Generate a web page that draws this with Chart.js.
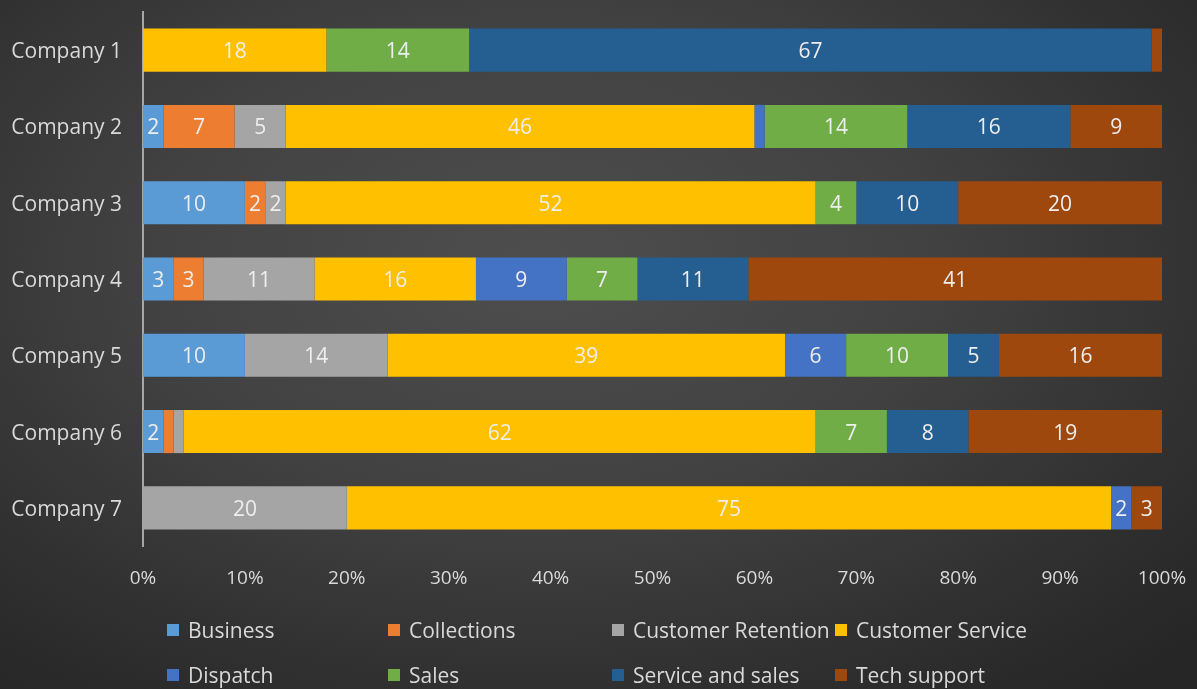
<!DOCTYPE html>
<html>
<head>
<meta charset="utf-8">
<script src="https://cdn.jsdelivr.net/npm/chart.js@4.4.1/dist/chart.umd.min.js"></script>
<style>
  html, body { margin:0; padding:0; width:1197px; height:689px; overflow:hidden; }
  body {
    background: radial-gradient(ellipse 75% 80% at 45% 38%, #4e4e4e 0%, #414141 45%, #2f2f2f 80%, #262626 100%);
    font-family: "Open Sans", sans-serif;
  }
  #wrap { position:absolute; left:0; top:0; width:1197px; height:689px; }
  #legend { position:absolute; left:0; top:0; width:1197px; height:689px; pointer-events:none; }
  .li { position:absolute; display:flex; align-items:center; color:#d9d9d9; font-size:21px; line-height:1; white-space:nowrap; }
  .li .sw { width:12px; height:12px; margin-right:9px; }
</style>
</head>
<body>
<div id="wrap"><canvas id="c" width="1197" height="689"></canvas></div>
<div id="legend"></div>
<script>
const categories = ["Company 1","Company 2","Company 3","Company 4","Company 5","Company 6","Company 7"];
const seriesNames = ["Business","Collections","Customer Retention","Customer Service","Dispatch","Sales","Service and sales","Tech support"];
const seriesColors = ["#5B9BD5","#ED7D31","#A5A5A5","#FFC000","#4472C4","#70AD47","#255E91","#9E480E"];
const business          = [0, 2, 10, 3, 10, 2, 0];
const collections       = [0, 7, 2, 3, 0, 1, 0];
const customerRetention = [0, 5, 2, 11, 14, 1, 20];
const customerService   = [18, 46, 52, 16, 39, 62, 75];
const dispatch          = [0, 1, 0, 9, 6, 0, 2];
const sales             = [14, 14, 4, 7, 10, 7, 0];
const serviceAndSales   = [67, 16, 10, 11, 5, 8, 0];
const techSupport       = [1, 9, 20, 41, 16, 19, 3];
const tickLabels = ["0%","10%","20%","30%","40%","50%","60%","70%","80%","90%","100%"];

const raw = [business, collections, customerRetention, customerService, dispatch, sales, serviceAndSales, techSupport];
const totals = categories.map((_, i) => raw.reduce((s, arr) => s + arr[i], 0));

const datasets = raw.map((arr, k) => ({
  label: seriesNames[k],
  data: arr.map((v, i) => v / totals[i] * 100),
  rawValues: arr,
  backgroundColor: seriesColors[k],
  borderWidth: 0,
  barPercentage: 0.565,
  categoryPercentage: 1.0
}));

const labelPlugin = {
  id: 'segLabels',
  afterDatasetsDraw(chart) {
    const ctx = chart.ctx;
    ctx.save();
    ctx.font = '21px "Open Sans", sans-serif';
    ctx.textAlign = 'center';
    ctx.textBaseline = 'middle';
    ctx.fillStyle = '#eeeeee';
    chart.data.datasets.forEach((ds, di) => {
      const meta = chart.getDatasetMeta(di);
      meta.data.forEach((el, i) => {
        const v = ds.rawValues[i];
        if (v < 2) return;
        const p = el.getCenterPoint();
        ctx.fillText(String(v), p.x, p.y + 2);
      });
    });
    ctx.restore();
  }
};

new Chart(document.getElementById('c'), {
  type: 'bar',
  data: { labels: categories, datasets },
  plugins: [labelPlugin],
  options: {
    indexAxis: 'y',
    responsive: false,
    animation: false,
    events: [],
    layout: { padding: { left: 0, right: 35, top: 12, bottom: 0 } },
    plugins: { legend: { display: false }, tooltip: { enabled: false } },
    scales: {
      x: {
        stacked: true, min: 0, max: 100,
        grid: { display: false, drawTicks: false },
        border: { display: false },
        afterFit(s) { s.height = 143; s.paddingLeft = 0; s.paddingRight = 0; },
        afterBuildTicks(s) { s.ticks = tickLabels.map((_, i) => ({ value: i * 10 })); },
        ticks: {
          callback: (v, i) => tickLabels[i],
          color: '#d9d9d9',
          font: { family: '"Open Sans", sans-serif', size: 19 },
          padding: 21,
          maxRotation: 0,
          autoSkip: false
        }
      },
      y: {
        stacked: true,
        grid: { display: false, drawTicks: false },
        border: { display: true, color: '#a6a6a6', width: 2 },
        afterFit(s) { s.width = 143; s.paddingTop = 0; s.paddingBottom = 0; },
        ticks: {
          color: '#d9d9d9',
          font: { family: '"Open Sans", sans-serif', size: 21 },
          padding: 21,
          labelOffset: 2
        }
      }
    }
  }
});

// HTML legend (4-column grid)
const legendCols = [167, 388, 612, 835];
const legendRows = [630, 675];
const lg = document.getElementById('legend');
seriesNames.forEach((name, k) => {
  const d = document.createElement('div');
  d.className = 'li';
  d.style.left = legendCols[k % 4] + 'px';
  d.style.top = (legendRows[Math.floor(k / 4)] - 11) + 'px';
  d.style.height = '22px';
  const sw = document.createElement('span');
  sw.className = 'sw';
  sw.style.background = seriesColors[k];
  const t = document.createElement('span');
  t.textContent = name;
  d.appendChild(sw); d.appendChild(t);
  lg.appendChild(d);
});
</script>
</body>
</html>
